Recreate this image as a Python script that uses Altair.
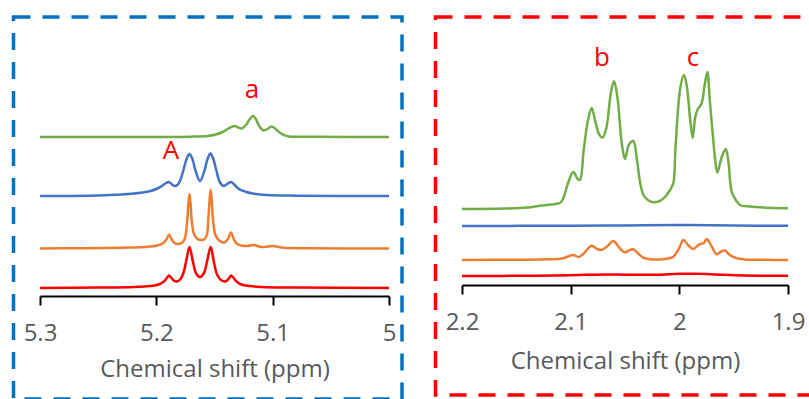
import altair as alt
import pandas as pd

# ---------------- data ----------------
SERIES = ["green", "blue", "orange", "red"]
COLORS = ["#70AD47", "#4472C4", "#ED7D31", "#FF0000"]

# Left panel: 5.3 - 5.0 ppm
L_green_ppm = [5.30, 5.20, 5.17, 5.156, 5.149, 5.143, 5.138, 5.1345, 5.1325, 5.1295, 5.1265, 5.123,
               5.1195, 5.117, 5.1145, 5.1115, 5.108, 5.1045, 5.101, 5.098, 5.094, 5.090, 5.086, 5.06, 5.00]
L_green_h = [0, 0, 0.3, 1, 2.5, 5, 8.5, 10.5, 11, 9.5, 8.5, 12,
             18, 21, 18, 11, 6.5, 8, 10.5, 8.5, 4.5, 1.8, 0.6, 0.2, 0]

L_blue_ppm = [5.30, 5.25, 5.23, 5.215, 5.205, 5.199, 5.194, 5.1915, 5.1893, 5.187, 5.1845, 5.1815,
              5.179, 5.1765, 5.174, 5.1715, 5.169, 5.1665, 5.1625, 5.1585, 5.156, 5.1535, 5.151,
              5.1485, 5.1455, 5.142, 5.1385, 5.1358, 5.133, 5.129, 5.124, 5.117, 5.105, 5.08, 5.00]
L_blue_h = [0, 0.5, 1.5, 3, 5, 7.5, 11, 13, 14, 12, 10, 11.5,
            17, 27, 37, 42, 37, 26, 15, 26, 37, 42.5, 37,
            26, 14, 10, 12.5, 14, 11.5, 7, 4.5, 2.5, 1, 0.3, 0]

L_orange_ppm = [5.30, 5.26, 5.23, 5.21, 5.199, 5.194, 5.191, 5.189, 5.187, 5.1845, 5.181, 5.1775,
                5.1755, 5.1735, 5.1725, 5.1715, 5.1705, 5.1695, 5.1675, 5.1645, 5.161, 5.1585,
                5.1565, 5.1553, 5.1543, 5.1533, 5.1523, 5.1513, 5.1493, 5.146, 5.1415, 5.1385,
                5.1358, 5.1335, 5.131, 5.127, 5.122, 5.1166, 5.112, 5.108, 5.104, 5.0995, 5.095,
                5.09, 5.07, 5.00]
L_orange_h = [0, 0.3, 0.8, 1.5, 3, 5.5, 9.5, 14, 9.5, 5.5, 4.5, 6,
              10, 27, 44, 54.5, 44, 27, 14, 9.5, 8.5, 9.5,
              14, 29, 47, 59, 47, 29, 14, 8, 6, 9.5,
              16, 9.5, 5, 3, 2.5, 3.5, 2.2, 1.5, 2, 2.5, 1.5,
              0.8, 0.3, 0]

L_red_ppm = [5.30, 5.25, 5.22, 5.205, 5.198, 5.1935, 5.191, 5.1891, 5.187, 5.1845, 5.182, 5.1795,
             5.177, 5.1745, 5.1715, 5.1685, 5.166, 5.1625, 5.159, 5.1565, 5.1533, 5.1505, 5.148,
             5.1445, 5.1405, 5.138, 5.1358, 5.1335, 5.131, 5.127, 5.12, 5.11, 5.08, 5.00]
L_red_h = [0, 0.4, 1, 2, 3.5, 6.5, 10, 12.5, 10, 7, 6.5, 8.5,
           14, 26, 41, 26, 15, 11, 15, 26, 41, 26, 14,
           8, 6.5, 9, 12.5, 10, 6.5, 3.5, 2, 1, 0.4, 0]

# Right panel: 2.2 - 1.9 ppm
R_green_ppm = [2.20, 2.16, 2.14, 2.128, 2.118, 2.110, 2.107, 2.103, 2.0976, 2.0935, 2.0914, 2.088,
               2.084, 2.0807, 2.077, 2.0735, 2.0705, 2.067, 2.063, 2.0601, 2.057, 2.053, 2.050,
               2.0465, 2.0424, 2.039, 2.036, 2.033, 2.029, 2.024, 2.018, 2.0132, 2.0086, 2.0055,
               2.0035, 1.999, 1.9957, 1.993, 1.990, 1.9877, 1.9855, 1.9834, 1.9794, 1.977, 1.9742,
               1.972, 1.969, 1.967, 1.965, 1.961, 1.9573, 1.955, 1.9518, 1.948, 1.9442, 1.935,
               1.9258, 1.90]
R_green_h = [0, 0.5, 1.5, 3.3, 4.5, 6, 10, 24, 37, 30, 29, 59,
             89, 101, 86, 74, 71.5, 82, 116, 128, 112, 66, 50,
             64, 68, 49, 26, 14, 9, 6.7, 8, 12, 19, 26,
             62, 122, 134, 122, 89, 71, 91, 99, 106, 122, 137,
             109, 72, 49, 36.5, 52, 60, 49, 17, 9, 4, 2.5,
             1.7, 0.8]

R_blue_ppm = [2.20, 2.10, 2.05, 2.00, 1.95, 1.90]
R_blue_h = [0, 0.3, 0.6, 1.0, 0.5, 0.2]

R_orange_ppm = [2.20, 2.15, 2.12, 2.108, 2.1025, 2.0976, 2.0925, 2.088, 2.0807, 2.0755, 2.0715,
                2.066, 2.0608, 2.055, 2.050, 2.0465, 2.0424, 2.0375, 2.0332, 2.027, 2.015, 2.0095,
                2.0055, 2.0005, 1.9963, 1.992, 1.9871, 1.9816, 1.9775, 1.9748, 1.9705, 1.9656,
                1.9615, 1.958, 1.9535, 1.9472, 1.94, 1.92, 1.90]
R_orange_h = [0, 0.3, 0.7, 1.5, 3.5, 5, 3, 6.5, 14.3, 11, 10,
              14, 19, 12, 7.7, 9.5, 10.7, 6, 2.3, 0.8, 0.8, 1.8,
              3.3, 11, 20, 15, 11, 15.7, 17, 21, 14, 5.7,
              8.5, 9.5, 5, 1.7, 0.6, 0.2, 0]

R_red_ppm = [2.20, 2.13, 2.10, 2.08, 2.06, 2.04, 2.02, 2.00, 1.99, 1.975, 1.96, 1.94, 1.90]
R_red_h = [0, 0.3, 0.8, 1.3, 1.5, 1.2, 1.3, 2.3, 2.2, 2.0, 1.2, 0.5, 0.3]

# peak annotations
L_labels = ["a", "A"]
L_label_ppm = [5.1178, 5.1874]
L_label_y = [300.7, 239.7]
R_labels = ["b", "c"]
R_label_ppm = [2.0712, 1.9874]
R_label_y = [333, 333]

# ---------------- layout (vertical stacking of the traces) ----------------
W, H = 809, 399
L_OFFSET = {"green": 262, "blue": 203, "orange": 150.5, "red": 111}
R_OFFSET = {"green": 190, "blue": 173, "orange": 139, "red": 123}


def build(series_lists, offsets):
    rows = []
    for name, ppm, h in series_lists:
        for p, v in zip(ppm, h):
            rows.append({"series": name, "ppm": p, "y": v + offsets[name]})
    return pd.DataFrame(rows)


left_df = build([("green", L_green_ppm, L_green_h), ("blue", L_blue_ppm, L_blue_h),
                 ("orange", L_orange_ppm, L_orange_h), ("red", L_red_ppm, L_red_h)], L_OFFSET)
right_df = build([("green", R_green_ppm, R_green_h), ("blue", R_blue_ppm, R_blue_h),
                  ("orange", R_orange_ppm, R_orange_h), ("red", R_red_ppm, R_red_h)], R_OFFSET)
left_lab = pd.DataFrame({"label": L_labels, "ppm": L_label_ppm, "y": L_label_y})
right_lab = pd.DataFrame({"label": R_labels, "ppm": R_label_ppm, "y": R_label_y})

FONT = "Open Sans"
yscale = alt.Scale(domain=[0, H], range=[H, 0], nice=False, zero=False)


def panel(df, lab, domain, rng, ticks, offset, title_y):
    axis = alt.Axis(values=ticks, format="~g", orient="bottom", offset=offset,
                    title="Chemical shift (ppm)", grid=False,
                    domainColor="#000000", domainWidth=2, tickColor="#000000", tickWidth=2,
                    tickSize=9, labelPadding=16.5, labelFlush=False, labelOverlap=False,
                    labelFont=FONT, labelFontSize=24, labelColor="#595959",
                    titleFont=FONT, titleFontSize=24, titleFontWeight="normal",
                    titleColor="#595959", titleBaseline="alphabetic", titleY=title_y)
    x = alt.X("ppm:Q", scale=alt.Scale(domain=domain, range=rng, nice=False, zero=False), axis=axis)
    lines = alt.Chart(df).mark_line(interpolate="catmull-rom", strokeWidth=2.5).encode(
        x=x,
        y=alt.Y("y:Q", scale=yscale, axis=None),
        color=alt.Color("series:N", scale=alt.Scale(domain=SERIES, range=COLORS), legend=None),
        detail="series:N",
        order=alt.Order("ppm:Q", sort="descending"),
    )
    text = alt.Chart(lab).mark_text(font=FONT, fontSize=26, color="#FF0000",
                                    align="center", baseline="alphabetic").encode(
        x=x,
        y=alt.Y("y:Q", scale=yscale, axis=None),
        text="label:N",
    )
    return alt.layer(lines, text)


left = panel(left_df, left_lab, [5.3, 5.0], [40, 389], [5.3, 5.2, 5.1, 5.0], -103, 80)
right = panel(right_df, right_lab, [2.2, 1.9], [462, 788], [2.2, 2.1, 2.0, 1.9], -114, 83)

dummy = pd.DataFrame({"k": [0]})
blue_border = alt.Chart(dummy).mark_rect(filled=False, stroke="#0070C0", strokeWidth=3.5,
                                         strokeDash=[17, 12]).encode(
    x=alt.value(13.5), x2=alt.value(402), y=alt.value(17), y2=alt.value(399))
red_border = alt.Chart(dummy).mark_rect(filled=False, stroke="#FF0000", strokeWidth=3.5,
                                        strokeDash=[17, 12]).encode(
    x=alt.value(435.5), x2=alt.value(813), y=alt.value(17), y2=alt.value(395))

chart = alt.layer(blue_border, red_border, left, right).resolve_scale(
    x="independent"
).properties(
    width=W, height=H, padding=0,
    autosize=alt.AutoSizeParams(type="none"),
    background="white",
).configure_view(stroke=None)

chart.save("out.html", embed_options={"renderer": "svg", "actions": False})
